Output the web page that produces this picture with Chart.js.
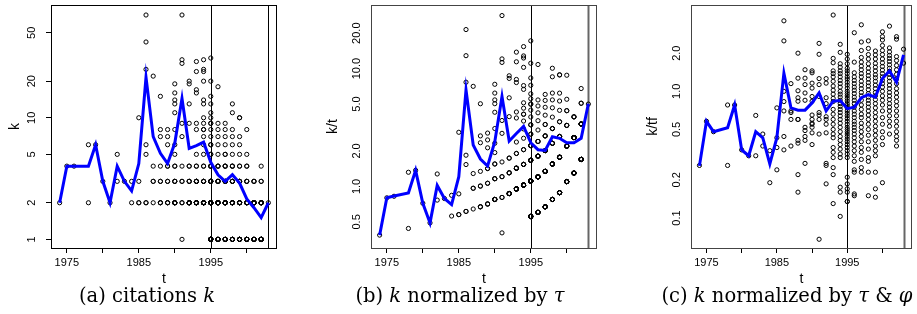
<!DOCTYPE html>
<html><head><meta charset="utf-8">
<script src="https://cdn.jsdelivr.net/npm/chart.js@4.4.1/dist/chart.umd.min.js"></script>
<style>
html,body{margin:0;padding:0;background:#fff}
body{width:917px;height:314px;overflow:hidden;position:relative}
canvas{position:absolute;left:0;top:0}
.cap{position:absolute;top:284px;font-family:"DejaVu Serif","Liberation Serif",serif;font-size:19.5px;line-height:24px;white-space:nowrap;transform:translateX(-50%);color:#000}
</style></head><body>
<canvas id="ca" width="917" height="290"></canvas>
<canvas id="cb" width="917" height="290"></canvas>
<canvas id="cc" width="917" height="290"></canvas>
<div class="cap" style="left:147px">(a) citations <i>k</i></div>
<div class="cap" style="left:460px">(b) <i>k</i> normalized by <i>τ</i></div>
<div class="cap" style="left:787px">(c) <i>k</i> normalized by <i>τ</i> &amp; <i>φ</i></div>
<script>
// ---------- DATA ----------
const xTicks = [1975, 1980, 1985, 1990, 1995, 2000];
const xTickLabels = {1975: "1975", 1985: "1985", 1995: "1995"};
const markerYears = [1995, 2003];

const kTicks = [1, 2, 5, 10, 20, 50];
const kTickLabels = ["1", "2", "5", "10", "20", "50"];
const ktTicks = [0.5, 1, 2, 5, 10, 20];
const ktTickLabels = ["0.5", "1.0", "2.0", "5.0", "10.0", "20.0"];
const ktfTicks = [0.1, 0.2, 0.5, 1, 2];
const ktfTickLabels = ["0.1", "0.2", "0.5", "1.0", "2.0"];

// citations k of each paper, by publication year
const kByYear = {
  1974: [2],
  1975: [4],
  1976: [4],
  1978: [6, 2],
  1979: [6],
  1980: [3],
  1981: [2],
  1982: [5, 3],
  1983: [3],
  1984: [3, 2],
  1985: [10, 3, 2, 2],
  1986: [70, 42, 25, 6, 5, 2, 2],
  1987: [22, 4, 3, 3, 2],
  1988: [15, 8, 7, 4, 3, 3, 2, 2, 2],
  1989: [8, 7, 6, 4, 4, 3, 3, 2, 2, 2],
  1990: [19, 16, 14, 13, 11, 8, 6, 5, 4, 4, 3, 3, 3, 2, 2, 2, 2, 2, 2],
  1991: [70, 30, 28, 9, 7, 4, 3, 3, 2, 2, 1],
  1992: [20, 19, 13, 9, 4, 4, 3, 3, 3, 2, 2, 2, 2, 2, 2, 2, 2],
  1993: [29, 24, 17, 16, 9, 8, 5, 4, 4, 3, 3, 3, 3, 3, 2, 2, 2, 2, 2, 2, 2, 2, 2, 2, 2],
  1994: [30, 25, 24, 20, 14, 13, 10, 9, 8, 8, 7, 6, 5, 4, 4, 3, 3, 3, 3, 2, 2, 2, 2, 2, 2, 2, 2, 2, 2, 2, 2, 2, 2, 2],
  1995: [31, 20, 15, 13, 11, 10, 9, 9, 8, 7, 6, 6, 5, 5, 4, 4, 4, 4, 3, 3, 3, 3, 3, 3,
         2, 2, 2, 2, 2, 2, 2, 2, 2, 2, 2, 2, 2, 2, 2, 2, 1, 1, 1, 1, 1, 1, 1, 1, 1, 1, 1, 1, 1, 1, 1, 1],
  1996: [18, 9, 8, 7, 6, 5, 4, 4, 4, 3, 3, 3, 3, 3, 2, 2, 2, 2, 2, 2, 2, 2, 2, 2, 1, 1, 1, 1, 1, 1, 1, 1],
  1997: [9, 8, 7, 6, 5, 5, 4, 4, 4, 3, 3, 3, 3, 3, 2, 2, 2, 2, 2, 2, 2, 2, 2, 2, 1, 1, 1, 1, 1, 1, 1, 1],
  1998: [13, 11, 8, 7, 6, 5, 4, 4, 4, 3, 3, 3, 3, 2, 2, 2, 2, 2, 2, 2, 2, 2, 1, 1, 1, 1, 1, 1, 1],
  1999: [10, 10, 7, 6, 5, 4, 4, 3, 3, 3, 3, 2, 2, 2, 2, 2, 2, 2, 2, 1, 1, 1, 1, 1, 1, 1, 1, 1],
  2000: [8, 5, 4, 4, 3, 3, 3, 2, 2, 2, 2, 2, 2, 1, 1, 1, 1, 1, 1, 1, 1, 1, 1],
  2001: [3, 3, 3, 2, 2, 2, 2, 2, 2, 2, 2, 2, 2, 2, 2, 1, 1, 1, 1, 1, 1, 1, 1],
  2002: [4, 3, 3, 2, 2, 2, 2, 2, 2, 2, 2, 1, 1, 1, 1, 1, 1, 1, 1, 1, 1, 1, 1, 1, 1, 1, 1],
  2003: [2]
};

// tau (age normalisation) read per year
const tauByYear = {
  1974: 5.18, 1975: 5.0, 1976: 4.85, 1978: 4.55, 1979: 4.38, 1980: 4.17, 1981: 4.08,
  1982: 3.92, 1983: 3.8, 1984: 3.57, 1985: 3.47, 1986: 3.26, 1987: 3.11, 1988: 2.98,
  1989: 2.82, 1990: 2.58, 1991: 2.48, 1992: 2.3, 1993: 2.1, 1994: 1.95, 1995: 1.8,
  1996: 1.66, 1997: 1.49, 1998: 1.29, 1999: 1.13, 2000: 0.91, 2001: 0.77, 2002: 0.59, 2003: 0.4
};

// k / (tau * phi) of each paper, by year
const ktfByYear = {
  1974: [0.26],
  1975: [0.58],
  1976: [0.48],
  1978: [0.78, 0.26],
  1979: [0.78],
  1980: [0.345],
  1981: [0.31],
  1982: [0.645, 0.31],
  1983: [0.46, 0.37],
  1984: [0.34, 0.19],
  1985: [0.74, 0.43, 0.36, 0.24],
  1986: [3.6, 2.5, 1.0, 0.83, 0.7, 0.44, 0.345],
  1987: [1.15, 0.7, 0.68, 0.6, 0.37],
  1988: [2.0, 1.27, 1.01, 0.89, 0.835, 0.6, 0.6, 0.41, 0.39, 0.22, 0.16],
  1989: [1.48, 1.27, 1.13, 0.97, 0.85, 0.52, 0.49, 0.44, 0.41, 0.27],
  1990: [1.45, 1.4, 1.16, 1.06, 0.91, 0.835, 0.65, 0.6, 0.56, 0.55, 0.52, 0.47, 0.38],
  1991: [2.39, 1.96, 1.26, 1.13, 0.91, 0.68, 0.65, 0.6, 0.46, 0.068],
  1992: [1.26, 1.16, 0.89, 0.8, 0.63, 0.6, 0.55, 0.47, 0.27, 0.26, 0.186],
  1993: [4.0, 1.82, 1.68, 1.45, 1.38, 1.3, 1.2, 1.1, 1.02, 0.95, 0.88, 0.83, 0.72, 0.66, 0.6,
         0.55, 0.5, 0.46, 0.43, 0.36, 0.33, 0.3, 0.25, 0.22, 0.13],
  1994: [2.35, 2.03, 1.65, 1.55, 1.45, 1.38, 1.3, 1.22, 1.15, 1.08, 1.0, 0.95, 0.9, 0.85, 0.8, 0.76,
         0.72, 0.68, 0.64, 0.6, 0.56, 0.52, 0.48, 0.44, 0.41, 0.38, 0.35, 0.32, 0.3, 0.175, 0.16, 0.103],
  1995: [1.96, 1.8, 1.65, 1.52, 1.45, 1.38, 1.3, 1.25, 1.18, 1.12, 1.06, 1.0, 0.96, 0.92, 0.88, 0.84,
         0.8, 0.77, 0.74, 0.7, 0.67, 0.64, 0.61, 0.58, 0.55, 0.52, 0.5, 0.48, 0.46, 0.44, 0.42, 0.4,
         0.38, 0.36, 0.34, 0.32, 0.3, 0.21, 0.186, 0.17, 0.16, 0.135, 0.135],
  1996: [2.9, 1.7, 1.4, 1.3, 1.22, 1.15, 1.08, 1.02, 0.96, 0.9, 0.85, 0.8, 0.75, 0.7, 0.66, 0.62,
         0.58, 0.55, 0.52, 0.49, 0.46, 0.43, 0.4, 0.37, 0.34, 0.31, 0.28, 0.24, 0.23, 0.155, 0.15],
  1997: [3.35, 2.45, 2.1, 1.85, 1.7, 1.58, 1.48, 1.38, 1.3, 1.2, 1.12, 1.05, 0.98, 0.92, 0.85, 0.78,
         0.72, 0.66, 0.62, 0.56, 0.52, 0.48, 0.44, 0.4, 0.36, 0.33, 0.29, 0.25, 0.23],
  1998: [2.5, 2.18, 1.95, 1.8, 1.65, 1.52, 1.42, 1.33, 1.25, 1.17, 1.1, 1.03, 0.96, 0.9, 0.85, 0.8,
         0.75, 0.7, 0.65, 0.6, 0.55, 0.5, 0.45, 0.4, 0.35, 0.3, 0.28, 0.23, 0.15],
  1999: [2.08, 1.94, 1.8, 1.66, 1.55, 1.45, 1.35, 1.28, 1.2, 1.12, 1.05, 0.98, 0.92, 0.86, 0.8, 0.74,
         0.68, 0.63, 0.58, 0.53, 0.49, 0.45, 0.41, 0.37, 0.34, 0.31, 0.23, 0.17, 0.146],
  2000: [2.95, 2.7, 2.54, 2.3, 2.1, 1.95, 1.8, 1.68, 1.57, 1.47, 1.38, 1.3, 1.22, 1.15, 1.08, 1.0,
         0.92, 0.85, 0.78, 0.7, 0.62, 0.55, 0.48, 0.43, 0.38, 0.19],
  2001: [3.27, 2.2, 2.05, 1.92, 1.82, 1.72, 1.62, 1.52, 1.44, 1.36, 1.28, 1.2, 1.12, 1.05, 0.98, 0.92,
         0.86, 0.8, 0.75, 0.7, 0.64, 0.58, 0.53, 0.46],
  2002: [2.7, 2.58, 1.88, 1.75, 1.6, 1.48, 1.36, 1.25, 1.15, 1.05, 0.97, 0.9, 0.83, 0.77, 0.7, 0.64,
         0.58, 0.53, 0.48, 0.44, 0.41, 0.37],
  2003: [2.15, 1.67]
};

// yearly average curves (blue)
const lineYears = [1974, 1975, 1976, 1978, 1979, 1980, 1981, 1982, 1983, 1984, 1985, 1986, 1987, 1988,
  1989, 1990, 1991, 1992, 1993, 1994, 1995, 1996, 1997, 1998, 1999, 2000, 2001, 2002, 2003];
const kLine = [2, 4, 4, 4, 6, 3, 2, 4, 3, 2.5, 4.2, 21.5, 7.0, 5.1, 4.2, 6.2, 14.4, 5.6, 5.9, 6.3,
  4.3, 3.4, 3.0, 3.4, 2.9, 2.15, 1.82, 1.51, 2];
const ktLine = [0.386, 0.8, 0.83, 0.88, 1.37, 0.72, 0.49, 1.02, 0.79, 0.7, 1.21, 6.6, 2.25, 1.71, 1.49,
  2.4, 5.8, 2.43, 2.81, 3.23, 2.35, 2.05, 2.02, 2.64, 2.56, 2.35, 2.35, 2.56, 5.04];
const ktfLine = [0.258, 0.58, 0.48, 0.516, 0.78, 0.345, 0.31, 0.48, 0.43, 0.267, 0.43, 1.39, 0.74, 0.71,
  0.71, 0.81, 0.97, 0.7, 0.835, 0.845, 0.73, 0.75, 0.89, 0.94, 0.9, 1.26, 1.45, 1.18, 1.94];

// ---------- BUILD ----------
function scatterPoints(byYear, divisor) {
  const pts = [];
  Object.keys(byYear).forEach(y => {
    const yr = +y;
    byYear[y].forEach(v => pts.push({x: yr, y: divisor ? v / divisor[y] : v}));
  });
  return pts;
}
function linePoints(vals) { return lineYears.map((y, i) => ({x: y, y: vals[i]})); }

const SANS = '"Liberation Sans", Arial, Helvetica, sans-serif';

function makeChart(id, p) {
  const deco = {
    id: 'deco_' + id,
    beforeDatasetsDraw(chart) {
      const ctx = chart.ctx, ca = chart.chartArea, xs = chart.scales.x;
      ctx.save();
      markerYears.forEach((yr, i) => {
        const x = Math.round(xs.getPixelForValue(yr)) + 0.5;
        ctx.beginPath();
        ctx.strokeStyle = i === 0 ? '#000' : p.endLineColor;
        ctx.lineWidth = i === 0 ? 1 : p.endLineWidth;
        ctx.moveTo(x, ca.top); ctx.lineTo(x, ca.bottom); ctx.stroke();
      });
      ctx.restore();
    },
    afterDraw(chart) {
      const ctx = chart.ctx, ca = chart.chartArea, ys = chart.scales.y;
      ctx.save();
      ctx.strokeStyle = p.boxColor; ctx.lineWidth = 1;
      ctx.strokeRect(Math.round(ca.left) + 0.5, Math.round(ca.top) + 0.5,
        Math.round(ca.right - ca.left) - 1, Math.round(ca.bottom - ca.top));
      ctx.fillStyle = '#000';
      ctx.font = '11px ' + SANS;
      ctx.textAlign = 'center'; ctx.textBaseline = 'middle';
      p.yTicks.forEach((v, i) => {
        const y = ys.getPixelForValue(v);
        ctx.save(); ctx.translate(ca.left - p.labOff, y); ctx.rotate(-Math.PI / 2);
        ctx.fillText(p.yTickLabels[i], 0, 0); ctx.restore();
      });
      ctx.font = '14px ' + SANS;
      ctx.save(); ctx.translate(ca.left - p.titleOff, (ca.top + ca.bottom) / 2); ctx.rotate(-Math.PI / 2);
      ctx.fillText(p.yTitle, 0, 0); ctx.restore();
      ctx.fillText('t', (ca.left + ca.right) / 2, 279);
      ctx.restore();
    }
  };
  return new Chart(document.getElementById(id), {
    data: {
      datasets: [
        {type: 'line', data: p.line, borderColor: '#0000ff', borderWidth: 3, pointRadius: 0,
          tension: 0, fill: false, order: 0, clip: false},
        {type: 'scatter', data: p.points, pointStyle: 'circle', pointRadius: 2.1, pointBorderWidth: 1,
          borderColor: '#000', backgroundColor: 'rgba(0,0,0,0)', pointBackgroundColor: 'rgba(0,0,0,0)',
          order: 1}
      ]
    },
    options: {
      responsive: false, animation: false, devicePixelRatio: 1,
      events: [],
      layout: {padding: {left: p.left - 10, right: 917 - p.right, top: 3, bottom: 12}},
      plugins: {legend: {display: false}, tooltip: {enabled: false}, title: {display: false}},
      scales: {
        x: {
          type: 'linear', min: 1972.8, max: 2004.2,
          afterBuildTicks: s => { s.ticks = xTicks.map(v => ({value: v})); },
          afterFit: s => { s.height = 30; },
          ticks: {autoSkip: false, maxRotation: 0, minRotation: 0, padding: 3, color: '#000',
            font: {family: SANS, size: 11}, callback: v => xTickLabels[v] || ''},
          grid: {drawOnChartArea: false, drawTicks: true, tickLength: 5, color: '#000'},
          border: {display: false}
        },
        y: {
          type: 'logarithmic', min: p.ymin, max: p.ymax,
          afterBuildTicks: s => { s.ticks = p.yTicks.map(v => ({value: v})); },
          afterFit: s => { s.width = 10; },
          ticks: {display: false},
          grid: {drawOnChartArea: false, drawTicks: p.yTickMarks, tickLength: 5, color: '#000',
            display: p.yTickMarks},
          border: {display: false}
        }
      }
    },
    plugins: [deco]
  });
}

makeChart('ca', {
  left: 51, right: 277, ymin: 0.849, ymax: 84.6,
  yTicks: kTicks, yTickLabels: kTickLabels, yTitle: 'k', labOff: 19, titleOff: 36,
  yTickMarks: true, boxColor: '#000', endLineColor: '#000', endLineWidth: 1,
  points: scatterPoints(kByYear), line: linePoints(kLine)
});
makeChart('cb', {
  left: 371, right: 597, ymin: 0.327, ymax: 34.7,
  yTicks: ktTicks, yTickLabels: ktTickLabels, yTitle: 'k/t', labOff: 14.5, titleOff: 38,
  yTickMarks: false, boxColor: '#444', endLineColor: '#666', endLineWidth: 2,
  points: scatterPoints(kByYear, tauByYear), line: linePoints(ktLine)
});
makeChart('cc', {
  left: 691, right: 917, ymin: 0.058, ymax: 4.8,
  yTicks: ktfTicks, yTickLabels: ktfTickLabels, yTitle: 'k/tf', labOff: 14, titleOff: 38,
  yTickMarks: false, boxColor: '#444', endLineColor: '#666', endLineWidth: 2,
  points: scatterPoints(ktfByYear), line: linePoints(ktfLine)
});
</script>
</body></html>
